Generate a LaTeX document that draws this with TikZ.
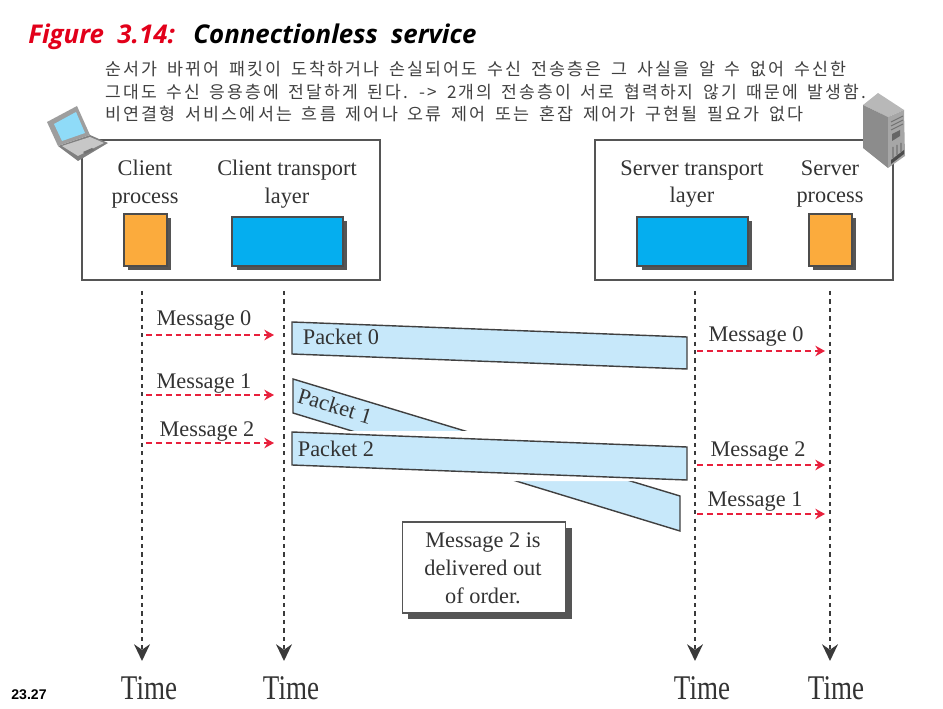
\documentclass[tikz,border=0pt]{standalone}
\usepackage{fontspec}
\setmainfont{Liberation Serif}
\newfontfamily\titlefont{Open Sans}
\newfontfamily\numfont{Liberation Sans}
\newfontfamily\krfont[LetterSpace=12.5,WordSpace=1.6]{Noto Sans CJK KR}
\usetikzlibrary{arrows.meta,shadows}

\definecolor{frameline}{HTML}{555555}
\definecolor{orangebox}{HTML}{FBAB3D}
\definecolor{bluebox}{HTML}{05AEEF}
\definecolor{packetblue}{HTML}{C7E8FA}
\definecolor{msgred}{HTML}{E8203C}
\definecolor{titlered}{HTML}{E2001A}
\definecolor{lifeline}{HTML}{3A3A3A}

\tikzset{
    framebox/.style={draw=frameline,line width=1pt,fill=white,minimum width=170pt,minimum height=79.4pt,inner sep=0pt},
    shadowed/.style={general shadow={shadow xshift=2.5pt,shadow yshift=-2.5pt,fill=frameline}},
    procbox/.style={draw=black!70,line width=.8pt,fill=orangebox,minimum width=24.4pt,minimum height=29.5pt,inner sep=0pt,shadowed},
    layerbox/.style={draw=black!70,line width=.8pt,fill=bluebox,minimum width=63pt,minimum height=27.8pt,inner sep=0pt,shadowed},
    lbl/.style={font=\fontsize{12.7}{15.9}\selectfont,text=black!80,align=center,inner sep=0pt},
    timelbl/.style={font=\fontsize{19.7}{22}\selectfont,text=black!80,inner sep=0pt,xscale=.78},
    lifearrow/.style={draw=lifeline,line width=1.1pt,dash pattern=on 2.4pt off 2.4pt,-{Stealth[length=9.5pt,width=9pt,fill=lifeline]}},
    msgarrow/.style={draw=msgred,line width=.8pt,dash pattern=on 3.4pt off 2.2pt,-{Stealth[length=5.5pt,width=6pt,fill=msgred]}},
    packet/.style={draw=black!75,line width=.8pt,fill=packetblue},
    krline/.style={font=\krfont\fontsize{9.8}{10}\selectfont,text=black!75,anchor=west,inner sep=0pt},
    titletext/.style={anchor=base west,inner sep=0pt,font=\titlefont\bfseries\itshape\fontsize{14.7}{16}\selectfont}
}

\begin{document}
\begin{tikzpicture}[x=0.02cm,y=-0.02cm]
\useasboundingbox (0,0) rectangle (943,709);

% Title
\node[titletext,text=titlered] (figno) at (28,44) {Figure\ \ 3.14:};
\node[titletext] (figname) at (193,44) {Connectionless\ \ service};

% Korean note
\node[krline,xscale=1.008] (kr1) at (105,69) {순서가 바뀌어 패킷이 도착하거나 손실되어도 수신 전송층은 그 사실을 알 수 없어 수신한};
\node[krline,xscale=.995] (kr2) at (105,92) {그대도 수신 응용층에 전달하게 된다. -> 2개의 전송층이 서로 협력하지 않기 때문에 발생함.};
\node[krline,xscale=1.009] (kr3) at (105,114) {비연결형 서비스에서는 흐름 제어나 오류 제어 또는 혼잡 제어가 구현될 필요가 없다};

% Frames
\node[framebox] (cframe) at (231,210) {};
\node[framebox] (sframe) at (744,210) {};

% Client side
\node[lbl] (cproclbl) at (145,184) {Client\\process};
\node[lbl] (ctranslbl) at (287,184) {Client transport\\layer};
\node[procbox] (cproc) at (145.5,240) {};
\node[layerbox] (ctrans) at (287.5,241.5) {};

% Server side
\node[lbl] (stranslbl) at (692,184) {Server transport\\layer};
\node[lbl] (sproclbl) at (830,184) {Server\\process};
\node[layerbox] (strans) at (692.5,241.5) {};
\node[procbox] (sproc) at (830.5,240) {};

% Laptop
\fill[black!50] (58,146) -- (90,135) -- (108,143) -- (78,161) -- cycle;
\fill[black!22] (62,146) -- (90,137) -- (104,143) -- (78,156) -- cycle;
\fill[black!55] (83,152) -- (92,148) -- (94,150) -- (85,154) -- cycle;
\fill[black!38] (47,122) -- (77,106) -- (90,135) -- (58,146) -- cycle;
\fill[bluebox!45] (54,124) -- (76,112) -- (85,133) -- (62,141) -- cycle;

% Server
\fill[black!28] (863,105) -- (878,93) -- (904,110) -- (888,117) -- cycle;
\fill[black!45] (863,105) -- (888,117) -- (888,168) -- (863,148) -- cycle;
\fill[black!35] (888,117) -- (904,110) -- (905,156) -- (888,168) -- cycle;
\fill[black!60] (892,134) -- (900,130) -- (900,136) -- (892,141) -- cycle;
\fill[black!70] (891,160) -- (904,150) -- (904,154) -- (891,164) -- cycle;
\draw[black!55,line width=.6pt] (891,122) -- (903,116) (891,126) -- (903,120) (891,130) -- (903,124)
    (893,147) -- (893,158) (897,145) -- (897,155) (901,143) -- (901,152);

% Lifelines
\coordinate (c1top) at (142,291);
\coordinate (c1end) at (142,661);
\coordinate (c2top) at (284,291);
\coordinate (c2end) at (284,661);
\coordinate (s1top) at (695,291);
\coordinate (s1end) at (695,661);
\coordinate (s2top) at (830,291);
\coordinate (s2end) at (830,661);
\draw[lifearrow] (c1top) -- (c1end);
\draw[lifearrow] (c2top) -- (c2end);
\draw[lifearrow] (s1top) -- (s1end);
\draw[lifearrow] (s2top) -- (s2end);

% Time labels
\node[timelbl] (t1) at (149,688) {Time};
\node[timelbl] (t2) at (291,688) {Time};
\node[timelbl] (t3) at (702,688) {Time};
\node[timelbl] (t4) at (836,688) {Time};

% Packets
\draw[packet] (293,379) -- (680,496) -- (680,531) -- (293,413) -- cycle;
\fill[white] (292,431) -- (470,431) -- (687,446) -- (687,481) -- (513,481) -- (292,466) -- cycle;
\draw[packet] (292,322) -- (687,337) -- (687,369) -- (292,354) -- cycle;
\draw[packet] (292,432) -- (687,447) -- (687,480) -- (292,465) -- cycle;
\node[lbl] (p0) at (341,337) {Packet 0};
\node[lbl,rotate=-17] (p1) at (335,406) {Packet 1};
\node[lbl] (p2) at (336,449) {Packet 2};

% Client messages
\coordinate (a0) at (146,335);
\coordinate (b0) at (274,335);
\coordinate (a1) at (146,395);
\coordinate (b1) at (274,395);
\coordinate (a2) at (146,443);
\coordinate (b2) at (274,443);
\draw[msgarrow] (a0) -- (b0);
\draw[msgarrow] (a1) -- (b1);
\draw[msgarrow] (a2) -- (b2);
\node[lbl] (ma0) at (204,320) {Message 0};
\node[lbl] (ma1) at (204,384) {Message 1};
\node[lbl] (ma2) at (207,432) {Message 2};

% Server messages
\coordinate (d0) at (697,351);
\coordinate (e0) at (825,351);
\coordinate (d2) at (697,465);
\coordinate (e2) at (825,465);
\coordinate (d1) at (697,514);
\coordinate (e1) at (825,514);
\draw[msgarrow] (d0) -- (e0);
\draw[msgarrow] (d2) -- (e2);
\draw[msgarrow] (d1) -- (e1);
\node[lbl] (mb0) at (756,336) {Message 0};
\node[lbl] (mb2) at (758,452) {Message 2};
\node[lbl] (mb1) at (755,502) {Message 1};

% Note
\node[draw=frameline,line width=.8pt,fill=white,minimum width=93pt,minimum height=51.6pt,inner sep=0pt,
    general shadow={shadow xshift=3.4pt,shadow yshift=-3.4pt,fill=frameline}] (note) at (484,567.5) {};
\node[lbl] (notelbl) at (483,568) {Message 2 is\\delivered out\\of order.};

% Slide number
\node[inner sep=0pt,font=\numfont\bfseries\fontsize{8}{9}\selectfont] (slideno) at (29,695) {23.27};

\end{tikzpicture}
\end{document}
